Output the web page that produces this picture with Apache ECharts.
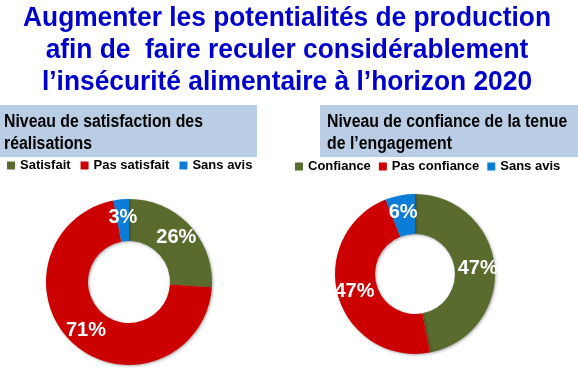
<!DOCTYPE html>
<html>
<head>
<meta charset="utf-8">
<script src="https://cdn.jsdelivr.net/npm/echarts@6/dist/echarts.min.js"></script>
<style>html,body{margin:0;padding:0;background:#fff;}#c{width:578px;height:369px;}</style>
</head>
<body>
<div id="c"></div>
<script>
var titleLines = ["Augmenter les potentialités de production", "afin de  faire reculer considérablement", "l\u2019insécurité alimentaire à l\u2019horizon 2020"];
var leftHeader = ["Niveau de satisfaction des", "réalisations"];
var rightHeader = ["Niveau de confiance de la tenue", "de l\u2019engagement"];
var leftCategories = ["Satisfait", "Pas satisfait", "Sans avis"];
var leftValues = [26, 71, 3];
var rightCategories = ["Confiance", "Pas confiance", "Sans avis"];
var rightValues = [47, 47, 6];
var colors = ["#5A6B2E", "#CC0000", "#0B7DD8"];

var chart = echarts.init(document.getElementById('c'));
var FONT = '"Liberation Sans", Arial, sans-serif';

function mk(cats, vals) {
  return cats.map(function (c, i) { return { name: c, value: vals[i], itemStyle: { color: colors[i] } }; });
}

var graphics = [];
var titleY = [18, 50, 82];
titleLines.forEach(function (t, i) {
  graphics.push({ type: 'text', x: 287, y: titleY[i], scaleX: 0.94,
    style: { text: t, fill: '#0000CC', font: 'bold 28px ' + FONT, textAlign: 'center', verticalAlign: 'middle' } });
});
graphics.push({ type: 'rect', shape: { x: 0, y: 105, width: 257, height: 52 }, style: { fill: '#B9CDE5' } });
graphics.push({ type: 'rect', shape: { x: 320, y: 105, width: 258, height: 52 }, style: { fill: '#B9CDE5' } });
var hY = [122, 144];
leftHeader.forEach(function (t, i) {
  graphics.push({ type: 'text', x: 4, y: hY[i], scaleX: 0.88,
    style: { text: t, fill: '#000', font: 'bold 18px ' + FONT, textAlign: 'left', verticalAlign: 'middle' } });
});
rightHeader.forEach(function (t, i) {
  graphics.push({ type: 'text', x: 327, y: hY[i], scaleX: 0.88,
    style: { text: t, fill: '#000', font: 'bold 18px ' + FONT, textAlign: 'left', verticalAlign: 'middle' } });
});

var labelCfg = { show: true, position: 'inside', formatter: '{c}%', color: '#fff', fontWeight: 'bold', fontSize: 20, fontFamily: FONT, textBorderWidth: 0 };
var itemCfg = { shadowBlur: 3, shadowColor: 'rgba(0,0,0,0.35)', shadowOffsetX: 1, shadowOffsetY: 1 };
var legendText = { fontWeight: 'bold', fontSize: 13, fontFamily: FONT, color: '#000' };

chart.setOption({
  animation: false,
  graphic: graphics,
  legend: [
    { data: leftCategories, left: 7, top: 159, itemWidth: 8, itemHeight: 8, itemGap: 10, icon: 'rect', textStyle: legendText, padding: 0, selectedMode: false },
    { data: rightCategories, left: 295, top: 160, itemWidth: 8, itemHeight: 8, itemGap: 8, icon: 'rect', textStyle: legendText, padding: 0, selectedMode: false }
  ],
  series: [
    { type: 'pie', center: [129, 282], radius: [41, 83], startAngle: 90, clockwise: true, label: labelCfg, labelLine: { show: false }, itemStyle: itemCfg, emphasis: { disabled: true }, data: mk(leftCategories, leftValues) },
    { type: 'pie', center: [415, 274], radius: [40, 80], startAngle: 90, clockwise: true, label: labelCfg, labelLine: { show: false }, itemStyle: itemCfg, emphasis: { disabled: true }, data: mk(rightCategories, rightValues) }
  ]
});
</script>
</body>
</html>
